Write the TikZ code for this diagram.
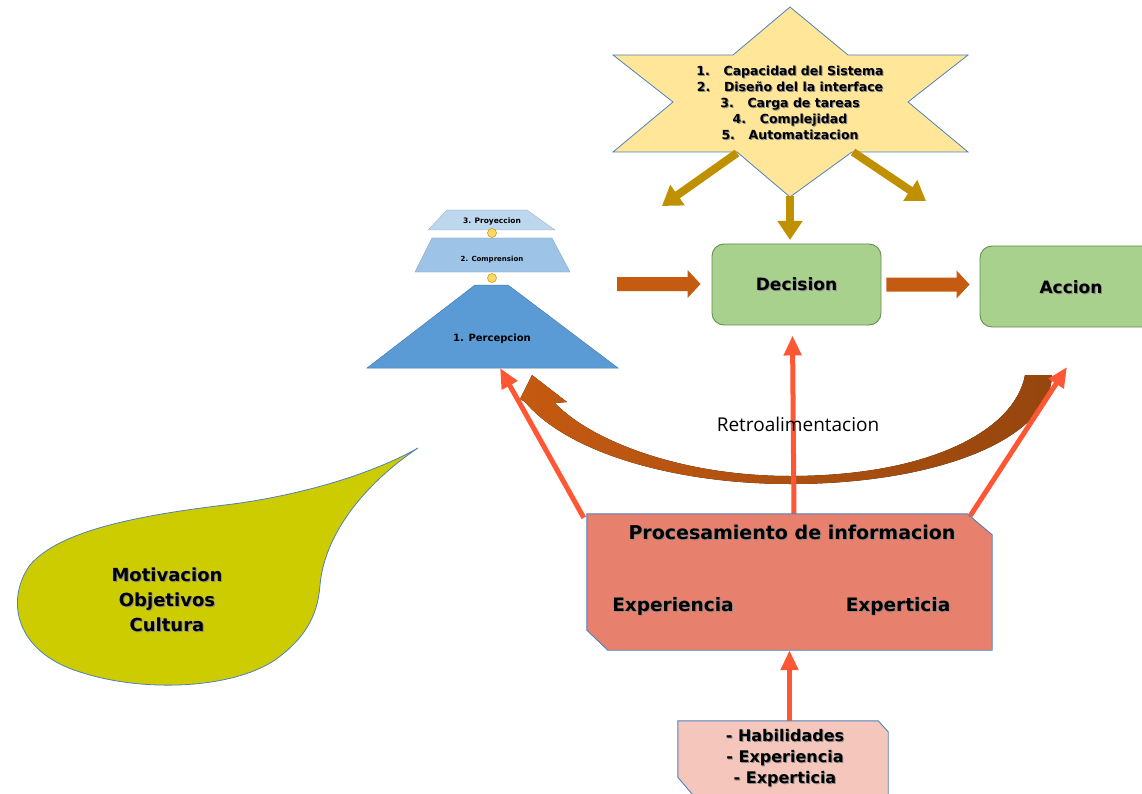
\documentclass[tikz,border=0pt]{standalone}
\usepackage{fontspec}
\setmainfont{DejaVu Sans}
\newfontfamily\labelfont{Open Sans}
\usetikzlibrary{arrows.meta,calc,backgrounds}

\definecolor{starfill}{RGB}{255,230,153}
\definecolor{gold}{RGB}{191,144,0}
\definecolor{lvlthree}{RGB}{189,215,238}
\definecolor{lvltwo}{RGB}{157,195,230}
\definecolor{lvlone}{RGB}{91,155,213}
\definecolor{rust}{RGB}{197,90,17}
\definecolor{darkrust}{RGB}{150,70,14}
\definecolor{leaf}{RGB}{169,209,142}
\definecolor{leafedge}{RGB}{104,140,80}
\definecolor{coral}{RGB}{255,87,51}
\definecolor{salmon}{RGB}{232,128,110}
\definecolor{blush}{RGB}{245,199,188}
\definecolor{olive}{RGB}{204,204,0}
\definecolor{edgeblue}{RGB}{79,129,189}
\definecolor{knob}{RGB}{255,217,102}

% bold text with a soft drop shadow
\newcommand\shd[1]{\leavevmode\rlap{\kern1pt\raisebox{-1pt}{\textcolor{black!45}{#1}}}#1}

% horizontal block arrow between two points
\newcommand\blockarrow[2]{%
  \fill[rust] let \p1=(#1), \p2=(#2) in
    (\x1,\y1+7pt) -- (\x2-13pt,\y1+7pt) -- (\x2-13pt,\y1+14pt) -- (\x2,\y1)
    -- (\x2-13pt,\y1-14pt) -- (\x2-13pt,\y1-7pt) -- (\x1,\y1-7pt) -- cycle;}

\begin{document}
\begin{tikzpicture}[x=1pt,y=-1pt,
  outline/.style={draw=edgeblue,line width=0.9pt},
  boldtext/.style={font=\bfseries\fontsize{#1}{#1}\selectfont,align=center,inner sep=0pt},
  greenbox/.style={draw=leafedge,fill=leaf,line width=0.9pt,rounded corners=12pt,
    minimum height=81pt,inner sep=0pt},
  goldarrow/.style={draw=gold,line width=8pt,-{Triangle[length=19pt,width=24pt]}},
  redarrow/.style={draw=coral,line width=5pt,-{Triangle[length=20pt,width=17pt]}},
  knobdot/.style={circle,fill=knob,draw=gold,line width=0.5pt,minimum size=9pt,inner sep=0pt}]

\useasboundingbox (0,0) rectangle (1142,794);
\clip (0,0) rectangle (1142,794);

% ---------- star of influencing factors ----------
\filldraw[fill=starfill,draw=edgeblue,line width=0.8pt]
  (790,7) -- (848,55) -- (968,55) -- (908,102) -- (968,152) -- (852,152)
  -- (790,197) -- (737,152) -- (613,152) -- (673,102) -- (613,55) -- (733,55) -- cycle;
\node[font=\bfseries\fontsize{12.5}{16}\selectfont,align=center,inner sep=0pt] (star) at (790,103)
  {\shd{1.\hspace{1.1em}Capacidad del Sistema}\\
   \shd{2.\hspace{1.1em}Diseño del la interface}\\
   \shd{3.\hspace{1.1em}Carga de tareas}\\
   \shd{4.\hspace{1.1em}Complejidad}\\
   \shd{5.\hspace{1.1em}Automatizacion}};
\coordinate (starBL) at (737,153);
\coordinate (starB)  at (790,196);
\coordinate (starBR) at (853,152);
\coordinate (goldL)  at (662,206);
\coordinate (goldM)  at (790,240);
\coordinate (goldR)  at (926,201);

% ---------- situation awareness pyramid ----------
\filldraw[fill=lvlthree,draw=lvlthree!80!black,line width=0.3pt]
  (428,230) -- (447,210) -- (527,210) -- (555,230) -- cycle;
\node[boldtext=7.5] (proy) at (492,221) {3. Proyeccion};
\node[knobdot] (k1) at (492,233) {};
\filldraw[fill=lvltwo,draw=lvltwo!80!black,line width=0.3pt]
  (415,272) -- (432,238) -- (552,238) -- (570,272) -- cycle;
\node[boldtext=7] (comp) at (492,260) {2. Comprension};
\node[knobdot] (k2) at (492,278) {};
\filldraw[fill=lvlone,draw=lvlone!80!black,line width=0.5pt]
  (367,368) -- (475,285) -- (508,285) -- (618,368) -- cycle;
\node[boldtext=10] (perc) at (492,339) {1. Percepcion};
\coordinate (pyrR)    at (617,284);
\coordinate (pyrBase) at (500,368);

% ---------- decision and action ----------
\node[greenbox,minimum width=169pt] (dec) at (796.5,284.5) {};
\node[boldtext=17] (decT) at (dec.center) {\shd{Decision}};
\node[greenbox,minimum width=180pt] (acc) at (1070,286.5) {};
\node[boldtext=17] (accT) at (1071,288) {\shd{Accion}};

\blockarrow{pyrR}{$(dec.west)+(-11,0)$}
\blockarrow{$(dec.east)+(5,0)$}{$(acc.west)+(-10,0)$}

% gold influence arrows
\draw[goldarrow] (starBL) -- (goldL);
\draw[goldarrow] (starB) -- (goldM);
\draw[goldarrow] (starBR) -- (goldR);

% ---------- information processing ----------
\node[minimum width=405pt,minimum height=136pt,inner sep=0pt] (proc) at (789.5,582) {};
\filldraw[fill=salmon,outline]
  (proc.north west) -- ($(proc.north east)+(-25,0)$) -- ($(proc.north east)+(0,21)$)
  -- (proc.south east) -- ($(proc.south west)+(21,0)$) -- ($(proc.south west)+(0,-20)$) -- cycle;
\node[boldtext=19] (procT) at (792,533) {\shd{Procesamiento de informacion}};
\node[boldtext=18.5] (expA) at (673,607) {\shd{Experiencia}};
\node[boldtext=18.5] (expB) at (898,607) {\shd{Experticia}};

% individual factors
\node[minimum width=210pt,minimum height=76pt,inner sep=0pt] (hab) at (783,759) {};
\filldraw[fill=blush,outline]
  (hab.north west) -- ($(hab.north east)+(-10,0)$) -- ($(hab.north east)+(0,11)$)
  -- (hab.south east) -- ($(hab.south west)+(17,0)$) -- ($(hab.south west)+(0,-20)$) -- cycle;
\node[font=\bfseries\fontsize{16}{21}\selectfont,align=center,inner sep=0pt] (habT) at (785,759)
  {\shd{- Habilidades}\\ \shd{- Experiencia}\\ \shd{- Experticia}};
\draw[redarrow] (proc.south |- hab.north) -- (proc.south);

% ---------- motivation bubble ----------
\filldraw[fill=olive,draw=edgeblue,line width=0.8pt]
  (418,448) .. controls (370,475) and (300,495) .. (233,504)
  .. controls (140,515) and (60,530) .. (30,565)
  .. controls (5,600) and (15,652) .. (80,672)
  .. controls (140,692) and (230,690) .. (275,660)
  .. controls (310,635) and (318,610) .. (320,585)
  .. controls (325,530) and (370,480) .. (418,448) -- cycle;
\node[font=\bfseries\fontsize{18}{25}\selectfont,align=center,inner sep=0pt] (moti) at (167,600)
  {\shd{Motivacion}\\ \shd{Objetivos}\\ \shd{Cultura}};

% ---------- feedback loop and processing links (behind the boxes) ----------
\coordinate (accBelow) at (1067,367);
\begin{scope}[on background layer]
  \fill[left color=rust,right color=darkrust]
    (1025,375) .. controls (1015,430) and (930,476) .. (790,476)
    .. controls (680,476) and (590,440) .. (555,403)
    -- (567,402) -- (532,375) -- (520,399) -- (525,402)
    .. controls (570,455) and (680,484) .. (790,484)
    .. controls (935,484) and (1050,440) .. (1052,375) -- cycle;
  \draw[redarrow] ($(proc.north west)+(-3,4)$) -- (pyrBase);
  \draw[redarrow] (794,516) -- ($(dec.south)+(-4,10)$);
  \draw[redarrow] ($(proc.north east)+(-22,2)$) -- (accBelow);
\end{scope}
\node[font=\labelfont\fontsize{19}{22}\selectfont,inner sep=0pt] (retro) at (798,424) {Retroalimentacion};

\end{tikzpicture}
\end{document}
